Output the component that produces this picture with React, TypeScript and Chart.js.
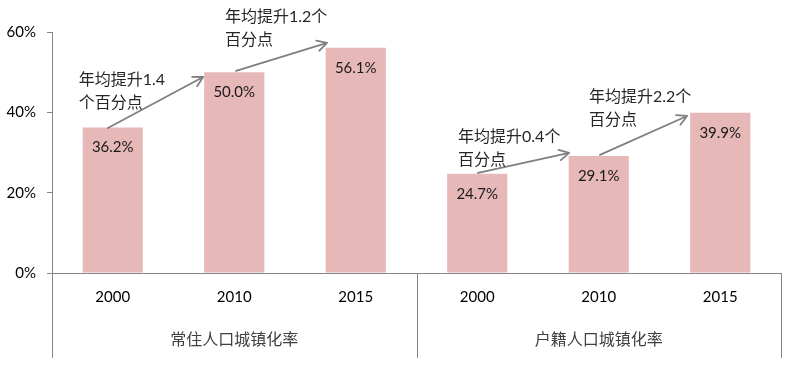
import React, { useEffect, useRef } from "react";
import { Chart, registerables } from "chart.js";

Chart.register(...registerables);

const years = ["2000", "2010", "2015", "2000", "2010", "2015"];
const rates = [36.2, 50.0, 56.1, 24.7, 29.1, 39.9];
const groupNames = ["常住人口城镇化率", "户籍人口城镇化率"];
const groupSpans = [[0, 2], [3, 5]];
const yTicks = [0, 20, 40, 60];

// annotation notes (anchors in data units: category index, percent)
const noteLines = [
  ["年均提升1.4", "个百分点"],
  ["年均提升1.2个", "百分点"],
  ["年均提升0.4个", "百分点"],
  ["年均提升2.2个", "百分点"],
];
const noteX = [-0.28, 0.924, 2.842, 3.92];
const noteY = [48.0, 63.7, 33.9, 43.8];

// arrows (data units)
const arrowStartX = [-0.04, 1.015, 3.007, 4.01];
const arrowStartY = [36.1, 50.3, 24.9, 29.4];
const arrowEndX = [0.744, 1.764, 3.756, 4.727];
const arrowEndY = [48.8, 57.3, 29.9, 39.1];

const FONT = 'Lato, "Noto Sans CJK SC", sans-serif';
const AXIS = "#868686";

const overlay = {
  id: "overlay",
  afterDraw(chart: any) {
    const ctx = chart.ctx;
    const xs = chart.scales.x;
    const ys = chart.scales.y;
    const area = chart.chartArea;
    ctx.save();
    // frame lines below the axis
    const yb = area.bottom + 85;
    ctx.strokeStyle = AXIS;
    ctx.lineWidth = 1;
    const vx = [area.left, xs.getPixelForValue(2.5), area.right];
    vx.forEach((x: number) => {
      const px = Math.round(x) + 0.5;
      ctx.beginPath();
      ctx.moveTo(px, area.bottom);
      ctx.lineTo(px, yb);
      ctx.stroke();
    });
    // group labels
    ctx.fillStyle = "#404040";
    ctx.font = '16px "Noto Sans CJK SC", sans-serif';
    ctx.textAlign = "center";
    ctx.textBaseline = "middle";
    groupSpans.forEach((s, i) => {
      const cx = (xs.getPixelForValue(s[0] - 0.5) + xs.getPixelForValue(s[1] + 0.5)) / 2;
      ctx.fillText(groupNames[i], cx, area.bottom + 66);
    });
    // value labels
    ctx.fillStyle = "#1a1a1a";
    ctx.font = "15px " + FONT;
    rates.forEach((v, i) => {
      const x = xs.getPixelForValue(i);
      const y = ys.getPixelForValue(v);
      ctx.fillText(v.toFixed(1) + "%", x, y + 20);
    });
    // arrows
    ctx.strokeStyle = "#7f7f7f";
    ctx.lineWidth = 1.8;
    ctx.lineCap = "round";
    ctx.lineJoin = "round";
    arrowStartX.forEach((_, i) => {
      const x1 = xs.getPixelForValue(arrowStartX[i]);
      const y1 = ys.getPixelForValue(arrowStartY[i]);
      const x2 = xs.getPixelForValue(arrowEndX[i]);
      const y2 = ys.getPixelForValue(arrowEndY[i]);
      const ang = Math.atan2(y2 - y1, x2 - x1);
      const L = 11;
      const spread = 0.5;
      ctx.beginPath();
      ctx.moveTo(x1, y1);
      ctx.lineTo(x2, y2);
      ctx.moveTo(x2 - L * Math.cos(ang - spread), y2 - L * Math.sin(ang - spread));
      ctx.lineTo(x2, y2);
      ctx.lineTo(x2 - L * Math.cos(ang + spread), y2 - L * Math.sin(ang + spread));
      ctx.stroke();
    });
    // notes
    ctx.fillStyle = "#262626";
    ctx.font = "16px " + FONT;
    ctx.textAlign = "left";
    ctx.textBaseline = "middle";
    noteLines.forEach((lines, i) => {
      const x = xs.getPixelForValue(noteX[i]);
      const y = ys.getPixelForValue(noteY[i]);
      lines.forEach((t, j) => ctx.fillText(t, x, y + j * 23));
    });
    ctx.restore();
  },
};

export default function App() {
  const ref = useRef<HTMLCanvasElement>(null);
  useEffect(() => {
    const chart = new Chart(ref.current!, {
      type: "bar",
      data: {
        labels: years,
        datasets: [
          {
            data: rates,
            backgroundColor: "#E6B8B7",
            barPercentage: 0.495,
            categoryPercentage: 1,
          },
        ],
      },
      options: {
        responsive: false,
        animation: false,
        devicePixelRatio: 1,
        layout: { padding: { top: 32, right: 16, bottom: 0, left: 0 } },
        plugins: { legend: { display: false }, tooltip: { enabled: false } },
        scales: {
          x: {
            grid: { display: true, drawOnChartArea: false, drawTicks: false },
            border: { display: true, color: AXIS, width: 1 },
            ticks: { font: { size: 15, family: FONT }, color: "#000", padding: 15 },
            afterFit: (s: any) => {
              s.height = 94;
            },
          },
          y: {
            min: 0,
            max: 60,
            afterBuildTicks: (s: any) => {
              s.ticks = yTicks.map((v) => ({ value: v }));
            },
            grid: { drawOnChartArea: false, drawTicks: true, tickLength: 5, color: AXIS },
            border: { display: true, color: AXIS, width: 1 },
            ticks: {
              font: { size: 15, family: FONT },
              color: "#000",
              padding: 11,
              callback: (v: any) => v + "%",
            },
            afterFit: (s: any) => {
              s.width = 52;
            },
          },
        },
      },
      plugins: [overlay],
    });
    return () => chart.destroy();
  }, []);
  return (
    <div style={{ position: "fixed", left: 0, top: 0, width: 797, height: 367, background: "#fff" }}>
      <canvas ref={ref} width={797} height={367} style={{ display: "block" }} />
    </div>
  );
}
